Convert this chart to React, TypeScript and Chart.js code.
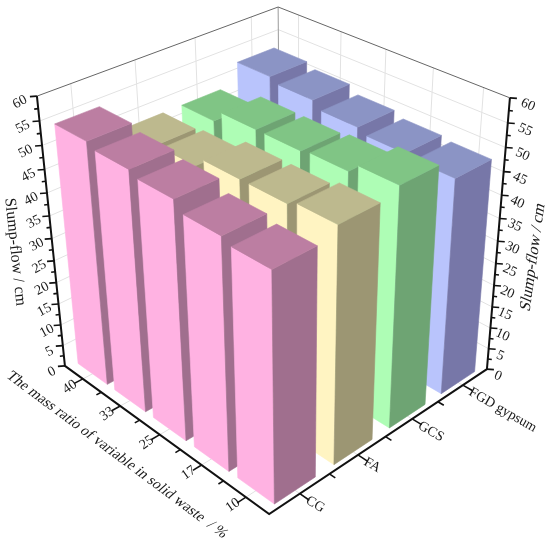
import React, { useEffect, useRef } from "react";
import { Chart, registerables } from "chart.js";

Chart.register(...registerables);

const W = 550;
const H = 543;

const categories = ["CG", "FA", "GCS", "FGD gypsum"];
const ratios = ["10", "17", "25", "33", "40"];
const zTicks = [0, 5, 10, 15, 20, 25, 30, 35, 40, 45, 50, 55, 60];
const zMax = 60;

const cgValues = [49, 50, 52, 53, 54];
const faValues = [51, 50, 50, 48, 47.5];
const gcsValues = [52.5, 50.5, 50, 50, 47.5];
const fgdValues = [48, 48.5, 49.5, 51, 52];
const seriesValues = [cgValues, faValues, gcsValues, fgdValues];

const paleColors = ["#FFB2E2", "#FFF4C2", "#AEFDB5", "#B9C4FC"];
const darkColors = ["#A06F8E", "#9C9673", "#6EA473", "#7777A8"];
const topColors = ["#BC7EA2", "#BDB98E", "#80C585", "#8B94C5"];

const LABEL_FONT = '14px "Liberation Serif"';
const TITLE_FONT = '16px "Liberation Serif"';
const XTITLE_FONT = '15px "Liberation Serif"';

// camera calibration: cube corners (u, v, w) and where they land
const calib: number[][] = [
  [0, 0, 0, 269, 514],
  [1, 0, 0, 487, 369],
  [0, 1, 0, 65, 366],
  [0, 1, 1, 37, 96],
  [1, 0, 1, 510, 98],
  [1, 1, 1, 278, 7],
];

function solve(A: number[][], b: number[]): number[] {
  const n = b.length;
  const M = A.map((r, i) => [...r, b[i]]);
  for (let c = 0; c < n; c++) {
    let p = c;
    for (let r = c + 1; r < n; r++) if (Math.abs(M[r][c]) > Math.abs(M[p][c])) p = r;
    [M[c], M[p]] = [M[p], M[c]];
    for (let r = 0; r < n; r++) {
      if (r === c) continue;
      const f = M[r][c] / M[c][c];
      for (let k = c; k <= n; k++) M[r][k] -= f * M[c][k];
    }
  }
  return M.map((r, i) => r[n] / r[i]);
}

function fitCamera(): number[] {
  const rows: number[][] = [];
  const rhs: number[] = [];
  for (const [u, v, w, x, y] of calib) {
    rows.push([1, u, v, w, 0, 0, 0, 0, -x * u, -x * v, -x * w]);
    rhs.push(x);
    rows.push([0, 0, 0, 0, 1, u, v, w, -y * u, -y * v, -y * w]);
    rhs.push(y);
  }
  const n = 11;
  const AtA = Array.from({ length: n }, (_, i) =>
    Array.from({ length: n }, (_, j) => rows.reduce((s, r) => s + r[i] * r[j], 0))
  );
  const Atb = Array.from({ length: n }, (_, i) => rows.reduce((s, r, k) => s + r[i] * rhs[k], 0));
  return solve(AtA, Atb);
}

const cam = fitCamera();
function project(u: number, v: number, w: number) {
  const d = 1 + cam[8] * u + cam[9] * v + cam[10] * w;
  return {
    x: (cam[0] + cam[1] * u + cam[2] * v + cam[3] * w) / d,
    y: (cam[4] + cam[5] * u + cam[6] * v + cam[7] * w) / d,
  };
}

type P3 = [number, number, number];

function poly(pts: P3[], color: string) {
  const data = pts.map((p) => project(p[0], p[1], p[2]));
  data.push({ ...data[0] });
  return {
    type: "scatter",
    data,
    showLine: true,
    fill: "shape",
    backgroundColor: color,
    borderColor: color,
    borderWidth: 0.6,
    pointRadius: 0,
    tension: 0,
    clip: false,
  };
}

function line(pts: P3[], color: string, width: number) {
  return {
    type: "scatter",
    data: pts.map((p) => project(p[0], p[1], p[2])),
    showLine: true,
    fill: false,
    borderColor: color,
    borderWidth: width,
    pointRadius: 0,
    tension: 0,
    clip: false,
  };
}

function pixelTick(w: number, side: number, len: number) {
  const u = side > 0 ? 1 : 0;
  const v = side > 0 ? 0 : 1;
  const a = project(u, v, w);
  return {
    type: "scatter",
    data: [a, { x: a.x + side * len, y: a.y + 0.5 }],
    showLine: true,
    fill: false,
    borderColor: "#111",
    borderWidth: 1.6,
    pointRadius: 0,
    clip: false,
  };
}

function buildDatasets() {
  const out: any[] = [];
  const grid = "#E2E2E2";
  // walls
  zTicks.forEach((t) => {
    if (t === zMax || t === 0) return;
    const w = t / zMax;
    out.push(line([[0, 1, w], [1, 1, w], [1, 0, w]], grid, 1));
  });
  categories.forEach((_, i) => {
    const u = (i + 0.5) / categories.length;
    out.push(line([[u, 0, 0], [u, 1, 0], [u, 1, 1]], grid, 1));
  });
  ratios.forEach((_, j) => {
    const v = (j + 0.5) / ratios.length;
    out.push(line([[0, v, 0], [1, v, 0], [1, v, 1]], grid, 1));
  });
  out.push(line([[1, 1, 0], [1, 1, 1]], "#999", 1));
  out.push(line([[0, 1, 1], [1, 1, 1], [1, 0, 1]], "#666", 1));

  // bars, far to near
  const hu = 0.085;
  const hv = 0.08;
  for (let i = categories.length - 1; i >= 0; i--) {
    for (let j = ratios.length - 1; j >= 0; j--) {
      const uc = (i + 0.5) / categories.length;
      const vc = (j + 0.5) / ratios.length;
      const u0 = uc - hu, u1 = uc + hu, v0 = vc - hv, v1 = vc + hv;
      const w = seriesValues[i][j] / zMax;
      out.push(poly([[u0, v0, 0], [u0, v1, 0], [u0, v1, w], [u0, v0, w]], paleColors[i]));
      out.push(poly([[u0, v0, 0], [u1, v0, 0], [u1, v0, w], [u0, v0, w]], darkColors[i]));
      out.push(poly([[u0, v0, w], [u1, v0, w], [u1, v1, w], [u0, v1, w]], topColors[i]));
    }
  }

  // axes
  out.push(line([[0, 1, 1], [0, 1, 0], [0, 0, 0], [1, 0, 0], [1, 0, 1]], "#111", 2));
  zTicks.forEach((t, k) => {
    const w = t / zMax;
    out.push(pixelTick(w, -1, 7));
    out.push(pixelTick(w, 1, 7));
    if (k < zTicks.length - 1) {
      const m = (t + (zTicks[k + 1] - t) / 2) / zMax;
      out.push(pixelTick(m, -1, 4));
      out.push(pixelTick(m, 1, 4));
    }
  });
  categories.forEach((_, i) => {
    const n = categories.length;
    out.push(line([[(i + 0.5) / n, 0, 0], [(i + 0.5) / n, -0.04, 0]], "#111", 1.6));
    if (i > 0) out.push(line([[i / n, 0, 0], [i / n, -0.025, 0]], "#111", 1.6));
  });
  ratios.forEach((_, j) => {
    const n = ratios.length;
    out.push(line([[0, (j + 0.5) / n, 0], [-0.035, (j + 0.5) / n, 0]], "#111", 1.6));
    if (j > 0) out.push(line([[0, j / n, 0], [-0.02, j / n, 0]], "#111", 1.6));
  });
  return out.reverse();
}

function drawText(
  ctx: CanvasRenderingContext2D,
  text: string,
  x: number,
  y: number,
  rotDeg: number,
  skewDeg: number,
  font: string,
  align: CanvasTextAlign
) {
  ctx.save();
  ctx.translate(x, y);
  ctx.rotate((rotDeg * Math.PI) / 180);
  ctx.transform(1, 0, Math.tan((skewDeg * Math.PI) / 180), 1, 0, 0);
  ctx.font = font;
  ctx.fillStyle = "#1a1a1a";
  ctx.textAlign = align;
  ctx.textBaseline = "middle";
  ctx.fillText(text, 0, 0);
  ctx.restore();
}

const textPlugin = {
  id: "labels3d",
  afterDraw(chart: any) {
    const ctx = chart.ctx as CanvasRenderingContext2D;
    zTicks.forEach((t) => {
      const f = t / zMax;
      const a = project(0, 1, f);
      drawText(ctx, String(t), a.x - (13 + 4 * f), a.y + 6, -28, 0, LABEL_FONT, "center");
      const b = project(1, 0, f);
      drawText(ctx, String(t), b.x + (11 + 7 * f), b.y + 7, 24, 0, LABEL_FONT, "center");
    });
    ratios.forEach((r, j) => {
      const a = project(0, (j + 0.5) / ratios.length, 0);
      drawText(ctx, r, a.x - 13, a.y + 8, -35, 0, LABEL_FONT, "center");
    });
    categories.forEach((c, i) => {
      const a = project((i + 0.5) / categories.length, 0, 0);
      drawText(ctx, c, a.x + 7, a.y + 6, 30, 0, LABEL_FONT, "left");
    });
    drawText(ctx, "The mass ratio of variable in solid waste  / %", 117, 455, 36.7, -12, XTITLE_FONT, "center");
    drawText(ctx, "Slump-flow / cm", 15, 252, 84, 0, TITLE_FONT, "center");
    drawText(ctx, "Slump-flow / cm", 533, 257, -82, -14, TITLE_FONT, "center");
  },
};

export default function App() {
  const ref = useRef<HTMLCanvasElement>(null);
  useEffect(() => {
    document.body.style.margin = "0";
    const chart = new Chart(ref.current!, {
      type: "scatter",
      data: { datasets: buildDatasets() },
      options: {
        animation: false,
        responsive: false,
        layout: { padding: 0 },
        parsing: false,
        normalized: false,
        plugins: { legend: { display: false }, tooltip: { enabled: false } },
        scales: {
          x: { type: "linear", min: 0, max: W, display: false },
          y: { type: "linear", min: 0, max: H, reverse: true, display: false },
        },
      } as any,
      plugins: [textPlugin],
    } as any);
    return () => chart.destroy();
  }, []);
  return <canvas ref={ref} width={W} height={H} style={{ display: "block" }} />;
}
